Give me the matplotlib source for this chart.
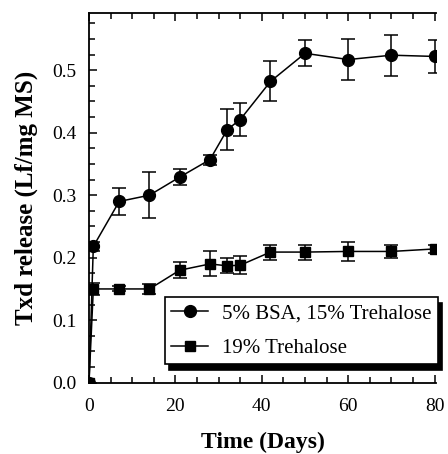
import matplotlib
matplotlib.use("Agg")
import matplotlib.pyplot as plt
from matplotlib.ticker import MultipleLocator
from matplotlib.lines import Line2D
from matplotlib.patches import Shadow
from matplotlib.transforms import IdentityTransform

plt.rcParams["font.family"] = ["Liberation Serif", "DejaVu Serif"]

# data
days = [0, 1, 7, 14, 21, 28, 32, 35, 42, 50, 60, 70, 80]

bsa = [0.0, 0.218, 0.290, 0.300, 0.329, 0.357, 0.405, 0.421, 0.482, 0.527, 0.517, 0.524, 0.522]
bsa_err = [0.0, 0.007, 0.021, 0.037, 0.013, 0.008, 0.033, 0.026, 0.032, 0.021, 0.033, 0.033, 0.027]

tre = [0.0, 0.150, 0.150, 0.150, 0.180, 0.190, 0.187, 0.188, 0.209, 0.209, 0.210, 0.210, 0.214]
tre_err = [0.0, 0.010, 0.004, 0.008, 0.013, 0.020, 0.012, 0.014, 0.012, 0.012, 0.015, 0.010, 0.006]

labels = ["5% BSA, 15% Trehalose", "19% Trehalose"]

fig = plt.figure(figsize=(4.48, 4.54), dpi=100)
ax = fig.add_axes([89 / 448, 71.3 / 454, 347 / 448, 369.7 / 454])

ax.errorbar(days, bsa, yerr=bsa_err, fmt="o-", color="black", ms=8.5, lw=1.1,
            elinewidth=1.1, capsize=5, capthick=1.1)
ax.errorbar(days, tre, yerr=tre_err, fmt="s-", color="black", ms=7, lw=1.1,
            elinewidth=1.1, capsize=5, capthick=1.1)

ax.set_xlim(0, 80.3)
ax.set_ylim(0, 0.5915)
ax.xaxis.set_major_locator(MultipleLocator(20))
ax.xaxis.set_minor_locator(MultipleLocator(5))
ax.yaxis.set_major_locator(MultipleLocator(0.1))
ax.yaxis.set_minor_locator(MultipleLocator(0.025))
ax.yaxis.set_major_formatter(plt.FormatStrFormatter("%.1f"))

ax.spines["right"].set_visible(False)
for s in ["left", "bottom", "top"]:
    ax.spines[s].set_linewidth(1.3)
ax.tick_params(which="both", direction="in", top=True, right=False,
               labelsize=14, width=1.1)
ax.tick_params(which="major", length=6)
ax.tick_params(which="minor", length=4)
ax.tick_params(axis="x", which="major", pad=11)
ax.tick_params(axis="y", which="major", pad=9)

ax.set_xlabel("Time (Days)", fontsize=17, fontweight="bold", labelpad=12)
ax.set_ylabel("Txd release (Lf/mg MS)", fontsize=18, fontweight="bold", labelpad=10)

handles = [Line2D([], [], color="black", marker="o", ms=8.5, lw=1.1),
           Line2D([], [], color="black", marker="s", ms=7, lw=1.1)]
leg = ax.legend(handles, labels, loc="lower right", bbox_to_anchor=(1.006, 0.05),
                borderaxespad=0, fontsize=15, frameon=True, fancybox=False,
                edgecolor="black", framealpha=1, handlelength=1.75,
                handletextpad=0.7, borderpad=0.3, labelspacing=0.73)
leg.get_frame().set_linewidth(1.2)

# thick black drop shadow like the original
fig.canvas.draw()
sh = Shadow(leg.get_frame(), 3, -4, color="black", alpha=1)
sh.set_transform(IdentityTransform())
sh.set_zorder(leg.get_zorder() - 0.1)
ax.add_artist(sh)
sh.set_clip_on(False)

fig.savefig("out.png", dpi=100)
